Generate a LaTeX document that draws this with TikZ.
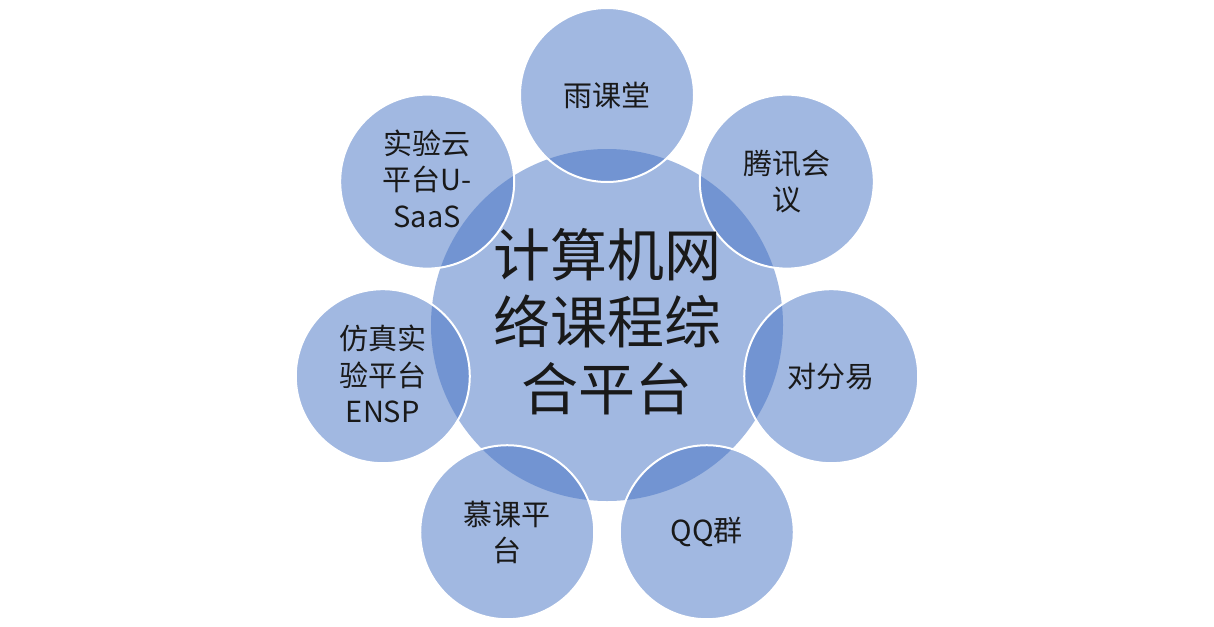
\documentclass[tikz,border=0pt]{standalone}
\usepackage{fontspec}
\setmainfont{Noto Sans CJK SC}
\usetikzlibrary{calc}
\definecolor{accent}{RGB}{68,114,196}
\begin{document}
\begin{tikzpicture}[x=1pt,y=-1pt,
  hub/.style={circle,minimum size=352pt,inner sep=0pt,fill=accent,fill opacity=0.5},
  sat/.style={circle,minimum size=174pt,inner sep=0pt,fill=accent,fill opacity=0.5,draw=white,line width=2pt,draw opacity=1},
  hubtext/.style={align=center,font=\fontsize{57}{67}\selectfont,text=black!90},
  sattext/.style={align=center,font=\fontsize{29}{36.5}\selectfont,text=black!90}]
\useasboundingbox (0,0) rectangle (1214,626);
\fill[white] (0,0) rectangle (1214,626);
\coordinate (c) at (607,325);
\node[hub] (hub) at (c) {};
\foreach \n/\a in {s1/90,s2/38.57,s3/-12.86,s4/-64.29,s5/-115.71,s6/-167.14,s7/141.43}{
  \node[sat] (\n) at ($(c)+(\a:230 and -230)$) {};
}
\node[hubtext] (ht) at ($(hub.center)+(0,-3)$) {计算机网\\络课程综\\合平台};
\node[sattext] (t1) at (s1.center) {雨课堂};
\node[sattext] (t2) at (s2.center) {腾讯会\\议};
\node[sattext] (t3) at (s3.center) {对分易};
\node[sattext] (t4) at (s4.center) {QQ群};
\node[sattext] (t5) at (s5.center) {慕课平\\台};
\node[sattext] (t6) at ($(s6.center)+(0,-2)$) {仿真实\\验平台\\ENSP};
\node[sattext] (t7) at ($(s7.center)+(0,-3)$) {实验云\\平台U-\\SaaS};
\end{tikzpicture}
\end{document}
